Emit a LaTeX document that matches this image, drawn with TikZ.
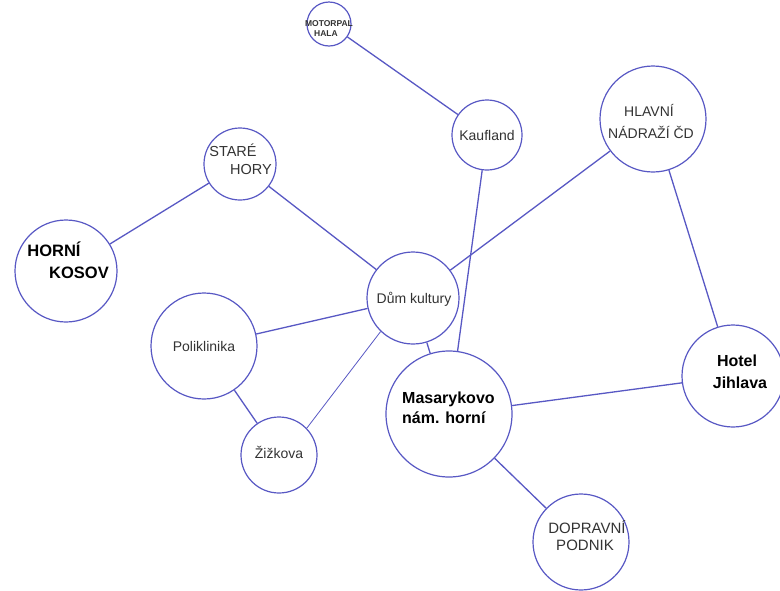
\documentclass[tikz,border=0pt]{standalone}
\usepackage{fontspec}
\setmainfont{Liberation Sans}
\definecolor{edgeblue}{RGB}{88,88,196}
\definecolor{labelgray}{RGB}{51,51,51}
\begin{document}
\begin{tikzpicture}[x=1pt,y=-1pt,
  stop/.style={circle,draw=edgeblue,line width=1.2pt,fill=white,inner sep=0pt},
  link/.style={draw=edgeblue,line width=1.3pt},
  thinlink/.style={draw=edgeblue,line width=0.8pt},
  txt/.style={inner sep=0pt,text height=0.716em,text depth=0pt,text=labelgray,
    font=\fontsize{14}{16}\selectfont},
  btxt/.style={inner sep=0pt,text height=0.716em,text depth=0pt,text=black,
    font=\fontsize{16}{18}\selectfont\bfseries},
  stxt/.style={inner sep=0pt,text height=0.716em,text depth=0pt,text=labelgray,
    font=\fontsize{8.5}{9}\selectfont\bfseries},
]
\useasboundingbox[fill=white] (0,0) rectangle (780,590);

% stops
\node[stop,minimum size=44pt]  (motorpal) at (329,24)  {};
\node[stop,minimum size=70pt]  (kaufland) at (487,135) {};
\node[stop,minimum size=106pt] (hlavni)   at (653,119) {};
\node[stop,minimum size=72pt]  (stare)    at (240,164) {};
\node[stop,minimum size=102pt] (kosov)    at (66,271)  {};
\node[stop,minimum size=92pt]  (dum)      at (413,298) {};
\node[stop,minimum size=106pt] (poli)     at (204,346) {};
\node[stop,minimum size=76pt]  (zizkova)  at (279,455) {};
\node[stop,minimum size=126pt] (masaryk)  at (449,414) {};
\node[stop,minimum size=102pt] (hotel)    at (733,376) {};
\node[stop,minimum size=96pt]  (doprava)  at (581,542) {};

% connections
\draw[link] (motorpal) -- (kaufland);
\draw[link] (kaufland) -- (masaryk);
\draw[link] (hlavni) -- (dum);
\draw[link] (hlavni) -- (hotel);
\draw[link] (stare) -- (kosov);
\draw[link] (stare) -- (dum);
\draw[link] (dum) -- (poli);
\draw[thinlink] (dum.226) -- (zizkova.44);
\draw[link] (dum) -- (masaryk);
\draw[link] (masaryk) -- (hotel);
\draw[link] (masaryk) -- (doprava);
\draw[link] (poli) -- (zizkova);

% labels
\node[stxt] (tmotor1) at (329,23) {MOTORPAL};
\node[stxt] (tmotor2) at (326,33) {HALA};
\node[txt] (tkauf) at (487,137) {Kaufland};
\node[txt] (thlav1) at (649,113) {HLAVNÍ};
\node[txt] (thlav2) at (651,135) {NÁDRAŽÍ ČD};
\node[txt,font=\fontsize{14.5}{16}\selectfont] (tstare1) at (233,153) {STARÉ};
\node[txt,font=\fontsize{14.5}{16}\selectfont] (tstare2) at (251,171) {HORY};
\node[btxt,font=\fontsize{16.5}{18}\selectfont\bfseries] (tkosov1) at (54,253) {HORNÍ};
\node[btxt,font=\fontsize{16.5}{18}\selectfont\bfseries] (tkosov2) at (79,275) {KOSOV};
\node[txt] (tdum) at (414,300) {Dům kultury};
\node[txt] (tpoli) at (204,348) {Poliklinika};
\node[txt] (tziz) at (279,455) {Žižkova};
\node[btxt,anchor=west] (tmas1) at (402,400) {Masarykovo};
\node[btxt,anchor=west] (tmas2) at (402,420) {nám. horní};
\node[btxt] (thotel1) at (737,363) {Hotel};
\node[btxt] (thotel2) at (740,385) {Jihlava};
\node[txt,font=\fontsize{15}{16}\selectfont] (tdop1) at (587,530) {DOPRAVNÍ};
\node[txt,font=\fontsize{15}{16}\selectfont] (tdop2) at (585,547) {PODNIK};
\end{tikzpicture}
\end{document}
